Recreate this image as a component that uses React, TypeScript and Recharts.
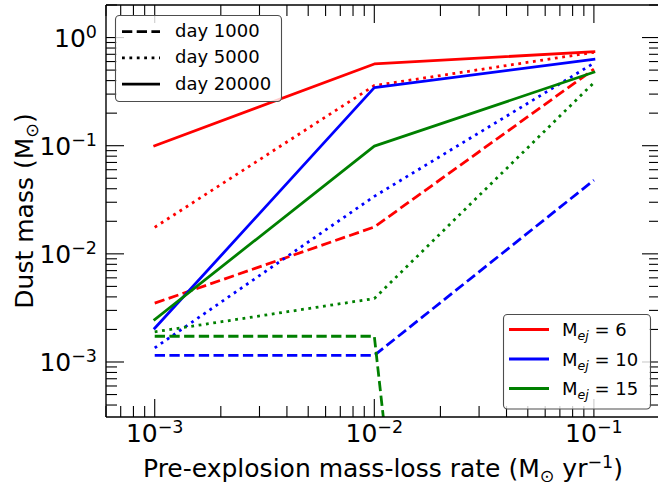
import { LineChart, Line, XAxis, YAxis } from "recharts";

const FONT = "DejaVu Sans";

// pre-explosion mass-loss rate (Msun / yr)
const massLossRates = [1e-3, 1e-2, 1e-1];

// dust mass (Msun), one array per ejecta mass and epoch
const mej6Day1000 = [0.0035, 0.0177, 0.51];
const mej6Day5000 = [0.0176, 0.36, 0.73];
const mej6Day20000 = [0.1, 0.57, 0.74];
const mej10Day1000 = [0.00115, 0.00115, 0.048];
const mej10Day5000 = [0.00135, 0.034, 0.58];
const mej10Day20000 = [0.00205, 0.344, 0.63];
const mej15Day1000 = [0.00173, 0.00173, 1e-21];
const mej15Day5000 = [0.0019, 0.00386, 0.383];
const mej15Day20000 = [0.00247, 0.099, 0.478];

const epochLabels = ["day 1000", "day 5000", "day 20000"];
const ejectaMasses = ["6", "10", "15"];

const COLORS = ["#ff0000", "#0000ff", "#008000"];
const DASHES = ["10.3 4.4", "2.8 4.6", undefined];
const LW = 2.78;

const X_DOMAIN = [6e-4, 0.2];
const Y_DOMAIN = [3.1e-4, 2.0];

const series = [
  { key: "m6d1000", values: mej6Day1000, mass: 0, epoch: 0 },
  { key: "m6d5000", values: mej6Day5000, mass: 0, epoch: 1 },
  { key: "m6d20000", values: mej6Day20000, mass: 0, epoch: 2 },
  { key: "m10d1000", values: mej10Day1000, mass: 1, epoch: 0 },
  { key: "m10d5000", values: mej10Day5000, mass: 1, epoch: 1 },
  { key: "m10d20000", values: mej10Day20000, mass: 1, epoch: 2 },
  { key: "m15d1000", values: mej15Day1000, mass: 2, epoch: 0 },
  { key: "m15d5000", values: mej15Day5000, mass: 2, epoch: 1 },
  { key: "m15d20000", values: mej15Day20000, mass: 2, epoch: 2 },
];

const rows = massLossRates.map((rate, i) => {
  const row: Record<string, number> = { rate };
  series.forEach((s) => {
    row[s.key] = s.values[i];
  });
  return row;
});

// major + minor log ticks inside [min, max]
function logTicks(min: number, max: number) {
  const out: number[] = [];
  for (let e = Math.floor(Math.log10(min)); e <= Math.ceil(Math.log10(max)); e++) {
    for (let m = 1; m < 10; m++) {
      const v = m * Math.pow(10, e);
      if (v >= min && v <= max) out.push(v);
    }
  }
  return out;
}

const xTicks = logTicks(X_DOMAIN[0], X_DOMAIN[1]);
const yTicks = logTicks(Y_DOMAIN[0], Y_DOMAIN[1]);

const MAJOR = 18;
const MINOR = 11;
const TICK_W = 1.1;

function isMajor(v: number) {
  const l = Math.log10(v);
  return Math.abs(l - Math.round(l)) < 1e-6;
}

function expText(v: number) {
  const e = Math.round(Math.log10(v));
  return e < 0 ? "\u2212" + Math.abs(e) : String(e);
}

const BottomTick = (props: any) => {
  const { x, y, payload } = props;
  const major = isMajor(payload.value);
  return (
    <g>
      <line x1={x} x2={x} y1={y} y2={y - (major ? MAJOR : MINOR)} stroke="#000" strokeWidth={TICK_W} />
      {major && (
        <text x={x} y={y + 25} textAnchor="middle" fontSize={25} fontFamily={FONT} fill="#000">
          10
          <tspan dy={-9} fontSize={17.5}>
            {expText(payload.value)}
          </tspan>
        </text>
      )}
    </g>
  );
};

const TopTick = (props: any) => {
  const { x, y, payload } = props;
  const major = isMajor(payload.value);
  return <line x1={x} x2={x} y1={y} y2={y + (major ? MAJOR : MINOR)} stroke="#000" strokeWidth={TICK_W} />;
};

const LeftTick = (props: any) => {
  const { x, y, payload } = props;
  const major = isMajor(payload.value);
  return (
    <g>
      <line x1={x} x2={x + (major ? MAJOR : MINOR)} y1={y} y2={y} stroke="#000" strokeWidth={TICK_W} />
      {major && (
        <text x={x - 9} y={y + 9} textAnchor="end" fontSize={25} fontFamily={FONT} fill="#000">
          10
          <tspan dy={-9} fontSize={17.5}>
            {expText(payload.value)}
          </tspan>
        </text>
      )}
    </g>
  );
};

const RightTick = (props: any) => {
  const { x, y, payload } = props;
  const major = isMajor(payload.value);
  return <line x1={x} x2={x - (major ? MAJOR : MINOR)} y1={y} y2={y} stroke="#000" strokeWidth={TICK_W} />;
};

const axisLine = { stroke: "#000", strokeWidth: 1.4 };

function Legends() {
  return (
    <svg
      width={658}
      height={482}
      style={{ position: "absolute", left: 0, top: 0, pointerEvents: "none" }}
      fontFamily={FONT}
    >
      {/* axis titles */}
      <text x={383} y={477} textAnchor="middle" fontSize={25} fill="#000">
        Pre-explosion mass-loss rate (M
        <tspan dy={5} fontSize={17.5}>
          {"\u2299"}
        </tspan>
        <tspan dy={-5}> yr</tspan>
        <tspan dy={-9} fontSize={17.5}>
          {"\u22121"}
        </tspan>
        <tspan dy={9}>)</tspan>
      </text>
      <text x={0} y={0} transform="translate(33 211) rotate(-90)" textAnchor="middle" fontSize={25} fill="#000">
        Dust mass (M
        <tspan dy={5} fontSize={17.5}>
          {"\u2299"}
        </tspan>
        <tspan dy={-5}>)</tspan>
      </text>

      {/* line style legend */}
      <rect x={115.5} y={15.5} width={166} height={86} rx={4} fill="#fff" fillOpacity={0.8} stroke="#4d4d4d" strokeWidth={1.1} />
      {epochLabels.map((label, i) => {
        const y = 31.7 + i * 26.2;
        return (
          <g key={label}>
            <line x1={122} x2={160} y1={y} y2={y} stroke="#000" strokeWidth={LW} strokeDasharray={DASHES[i]} />
            <text x={175} y={y + 5.5} fontSize={18} fill="#000">
              {label}
            </text>
          </g>
        );
      })}

      {/* ejecta mass legend */}
      <rect x={503.5} y={314.5} width={147} height={94.5} rx={4} fill="#fff" fillOpacity={0.8} stroke="#4d4d4d" strokeWidth={1.1} />
      {ejectaMasses.map((m, i) => {
        const y = 329.5 + i * 29.5;
        return (
          <g key={m}>
            <line x1={509} x2={549} y1={y} y2={y} stroke={COLORS[i]} strokeWidth={LW} />
            <text x={562} y={y + 6.5} fontSize={18} fill="#000">
              M
              <tspan dy={4} fontSize={12.6} fontStyle="italic">
                ej
              </tspan>
              <tspan dy={-4}>{` = ${m}`}</tspan>
            </text>
          </g>
        );
      })}
    </svg>
  );
}

export default function App() {
  return (
    <div style={{ position: "absolute", left: 0, top: 0, width: 658, height: 482, background: "#fff" }}>
      <LineChart width={658} height={482} data={rows} margin={{ top: 4, right: -3, bottom: 64, left: 105 }}>
        <XAxis
          xAxisId="b"
          dataKey="rate"
          type="number"
          scale="log"
          domain={X_DOMAIN}
          allowDataOverflow
          orientation="bottom"
          height={1}
          ticks={xTicks}
          interval={0}
          tickSize={0}
          tickMargin={0}
          tickLine={false}
          axisLine={axisLine}
          tick={BottomTick}
        />
        <XAxis
          xAxisId="t"
          dataKey="rate"
          type="number"
          scale="log"
          domain={X_DOMAIN}
          allowDataOverflow
          orientation="top"
          height={1}
          ticks={xTicks}
          interval={0}
          tickSize={0}
          tickMargin={0}
          tickLine={false}
          axisLine={axisLine}
          tick={TopTick}
        />
        <YAxis
          yAxisId="l"
          type="number"
          scale="log"
          domain={Y_DOMAIN}
          allowDataOverflow
          orientation="left"
          width={1}
          ticks={yTicks}
          interval={0}
          tickSize={0}
          tickMargin={0}
          tickLine={false}
          axisLine={axisLine}
          tick={LeftTick}
        />
        <YAxis
          yAxisId="r"
          type="number"
          scale="log"
          domain={Y_DOMAIN}
          allowDataOverflow
          orientation="right"
          width={1}
          ticks={yTicks}
          interval={0}
          tickSize={0}
          tickMargin={0}
          tickLine={false}
          axisLine={axisLine}
          tick={RightTick}
        />
        {series.map((s) => (
          <Line
            key={s.key}
            xAxisId="b"
            yAxisId="l"
            type="linear"
            dataKey={s.key}
            stroke={COLORS[s.mass]}
            strokeWidth={LW}
            strokeDasharray={DASHES[s.epoch]}
            strokeLinecap={s.epoch === 2 ? "square" : "butt"}
            strokeLinejoin="round"
            dot={false}
            activeDot={false}
            isAnimationActive={false}
          />
        ))}
      </LineChart>
      <Legends />
    </div>
  );
}
